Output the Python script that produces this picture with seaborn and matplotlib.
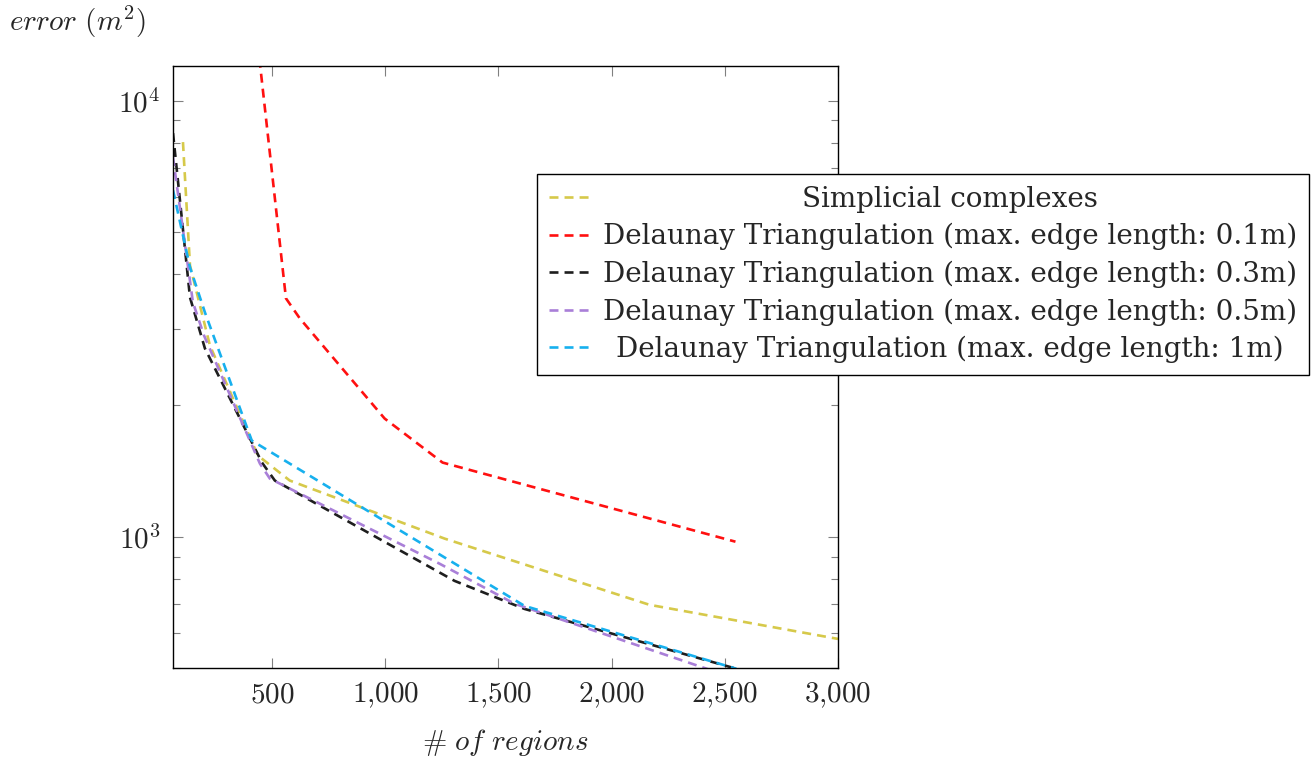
import numpy as np
import pandas as pd
import matplotlib
matplotlib.use('Agg')
import matplotlib.pyplot as plt
from matplotlib.ticker import FixedLocator, FuncFormatter, LogLocator, NullFormatter
import seaborn as sns

# series
series_names = [
    'Simplicial complexes',
    'Delaunay Triangulation (max. edge length: 0.1m)',
    'Delaunay Triangulation (max. edge length: 0.3m)',
    'Delaunay Triangulation (max. edge length: 0.5m)',
    'Delaunay Triangulation (max. edge length: 1m)',
]
simplicial_x = [106, 137, 225, 437, 578, 1262, 2167, 3000]
simplicial_y = [8030, 4190, 2745, 1535, 1345, 990, 698, 583]
dt01_x = [410, 561, 622, 997, 1253, 2547]
dt01_y = [17940, 3520, 3167, 1866, 1479, 974]
dt03_x = [62, 137, 203, 455, 512, 1306, 1615, 2551]
dt03_y = [8420, 3538, 2702, 1479, 1345, 792, 683, 498]
dt05_x = [62, 150, 199, 446, 490, 1240, 1571, 2410, 2551]
dt05_y = [7413, 3445, 2893, 1471, 1359, 867, 702, 500, 472]
dt1_x = [62, 137, 203, 410, 1615, 2551]
dt1_y = [6230, 4147, 3268, 1661, 694, 498]

x_ticks = [500, 1000, 1500, 2000, 2500, 3000]
colors = ['#D6C94A', '#FF1010', '#1E1E1E', '#A97FD8', '#17B0EE']

xs = [simplicial_x, dt01_x, dt03_x, dt05_x, dt1_x]
ys = [simplicial_y, dt01_y, dt03_y, dt05_y, dt1_y]
frames = []
for name, x, y in zip(series_names, xs, ys):
    frames.append(pd.DataFrame({'regions': x, 'error': y, 'method': name}))
df = pd.concat(frames, ignore_index=True)

sns.set_style('ticks')
plt.rcParams['mathtext.fontset'] = 'cm'
plt.rcParams['font.family'] = ['DejaVu Serif']

fig = plt.figure(figsize=(13.15, 7.58), dpi=100)
ax = fig.add_axes([173 / 1315, 1 - 668 / 758, 665 / 1315, 602 / 758])

palette = dict(zip(series_names, colors))
dashes = {n: (3.4, 2.3) for n in series_names}
sns.lineplot(data=df, x='regions', y='error', hue='method', style='method',
             palette=palette, dashes=dashes, estimator=None, sort=False,
             linewidth=1.9, ax=ax, legend=True)

ax.set_yscale('log')
ax.set_xlim(62, 3000)
ax.set_ylim(500, 12000)

ax.xaxis.set_major_locator(FixedLocator(x_ticks))
ax.xaxis.set_major_formatter(FuncFormatter(
    lambda v, p: r'$%s$' % f'{int(v):,}'.replace(',', '{,}')))
ax.yaxis.set_major_locator(LogLocator(base=10))
ax.yaxis.set_major_formatter(FuncFormatter(
    lambda v, p: r'$10^{%d}$' % int(round(np.log10(v)))))
ax.yaxis.set_minor_locator(LogLocator(base=10, subs=np.arange(2, 10)))
ax.yaxis.set_minor_formatter(NullFormatter())

ax.tick_params(which='both', direction='in', top=True, right=True,
               color='#808080', width=0.8, labelsize=21)
ax.tick_params(which='major', length=7, pad=9)
ax.tick_params(which='minor', length=5)
for s in ax.spines.values():
    s.set_color('black')
    s.set_linewidth(1.0)

ax.set_xlabel(r'$\#\ of\ regions$', fontsize=21, labelpad=12)
ax.set_ylabel(r'$error\ (m^2)$', fontsize=21, rotation=0, ha='left', va='center')
ax.yaxis.set_label_coords(-0.246, 1.073)

handles, labels = ax.get_legend_handles_labels()
leg = ax.legend(handles, labels, loc='upper left',
                bbox_to_anchor=(537 / 1315, 1 - 174 / 758),
                bbox_transform=fig.transFigure,
                prop={'family': 'DejaVu Serif', 'size': 20},
                frameon=True, fancybox=False, edgecolor='black',
                framealpha=1, borderpad=0.42, labelspacing=0.37,
                handlelength=1.5, handletextpad=0.45, borderaxespad=0)
leg.get_frame().set_linewidth(1.0)
for h in leg.get_lines():
    h.set_linewidth(1.9)

# centre the legend labels like pgfplots does
fig.canvas.draw()
r = fig.canvas.get_renderer()
texts = leg.get_texts()
widths = [t.get_window_extent(r).width for t in texts]
wmax = max(widths)
for t, w in zip(texts, widths):
    t.set_x((wmax - w) / 2)

fig.savefig('out.png', dpi=100)
